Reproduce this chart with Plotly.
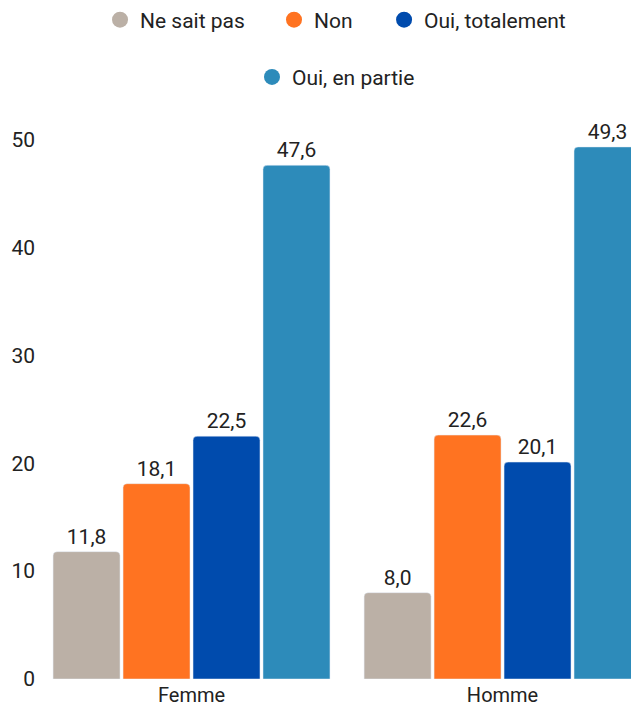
import plotly.graph_objects as go

categories = ["Femme", "Homme"]
series_names = ["Ne sait pas", "Non", "Oui, totalement", "Oui, en partie"]
ne_sait_pas = [11.8, 8.0]
non = [18.1, 22.6]
oui_totalement = [22.5, 20.1]
oui_en_partie = [47.6, 49.3]
colors = ["#BBB0A6", "#FF7321", "#004BAD", "#2D8BBA"]

values = [ne_sait_pas, non, oui_totalement, oui_en_partie]
FONT = "Roboto"
TXT = "#222222"

fig = go.Figure()
for name, vals, col in zip(series_names, values, colors):
    fig.add_trace(go.Bar(
        x=categories, y=vals, name=name, marker=dict(color=col, cornerradius=4),
        text=[f"{v:.1f}".replace(".", ",") for v in vals],
        textposition="outside", textfont=dict(size=21, color=TXT, family=FONT),
        cliponaxis=True, showlegend=False, hoverinfo="skip",
    ))

legend_ids = ["legend", "legend2", "legend3", "legend4"]
legend_x = [0.1076, 0.4, 0.585, 0.363]
legend_y = [1.152, 1.152, 1.152, 1.052]

for name, col, lid in zip(series_names, colors, legend_ids):
    fig.add_trace(go.Scatter(
        x=[None], y=[None], mode="markers", name=name,
        marker=dict(color=col, size=22, symbol="circle"),
        legend=lid,
    ))

layout_legends = {}
for lid, lx, ly in zip(legend_ids, legend_x, legend_y):
    layout_legends[lid] = dict(orientation="h", x=lx, xanchor="left", y=ly, yanchor="middle",
                               font=dict(size=21, family=FONT, color=TXT), itemwidth=30,
                               bgcolor="rgba(0,0,0,0)")

fig.update_layout(
    width=631, height=706, autosize=False,
    margin=dict(l=36, r=0, t=107, b=27, autoexpand=False),
    paper_bgcolor="white", plot_bgcolor="white",
    barmode="group", bargap=0.1, bargroupgap=0.043,
    font=dict(family=FONT, size=21, color=TXT),
    xaxis=dict(type="category", range=[-0.5, 1.413], showgrid=False, showline=False,
               ticks="", tickfont=dict(size=20), ticklabelstandoff=2, automargin=False),
    yaxis=dict(range=[0, 53], dtick=10, showgrid=False, showline=False, zeroline=False,
               ticks="", tickfont=dict(size=21), automargin=False),
    **layout_legends,
)

fig.write_html(
    "out.html",
    config={"displayModeBar": False},
    post_script="document.body.style.margin='0';document.body.style.overflow='hidden';",
)
